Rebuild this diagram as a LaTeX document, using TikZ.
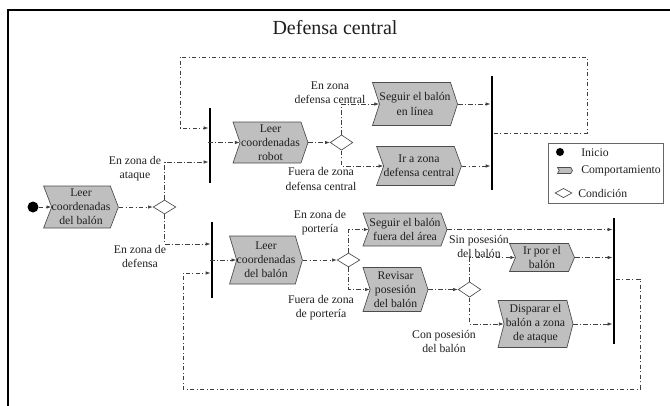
\documentclass[tikz,border=0pt]{standalone}
\usepackage{fontspec}
\setmainfont{Liberation Serif}
\usetikzlibrary{shapes.symbols,shapes.geometric,arrows.meta,calc}
\begin{document}
\begin{tikzpicture}[x=0.75pt,y=-0.75pt,
  every node/.style={font=\fontsize{8.8}{10.6}\selectfont, text=black!88},
  bhv/.style={signal, signal from=west, signal to=east, draw=black!70, fill=black!25,
    line width=0.5pt, align=center, inner sep=0pt, signal pointer angle=#1},
  bhv/.default=140,
  cond/.style={diamond, draw=black!70, fill=white, line width=0.5pt, inner sep=0pt,
    minimum width=17pt, minimum height=10.5pt},
  bar/.style={rectangle, fill=black, inner sep=0pt, minimum width=1.9pt},
  lbl/.style={align=center, inner sep=0pt},
  flow/.style={draw=black!75, line width=0.5pt,
    dash pattern=on 3.5pt off 1.6pt on 0.8pt off 1.6pt,
    -{Latex[length=3.6pt,width=2.6pt]}},
  loop/.style={draw=black!75, line width=0.5pt,
    dash pattern=on 3.5pt off 1.6pt on 0.8pt off 1.6pt}
]
\useasboundingbox (0,0) rectangle (670,405);
\clip (0,0) rectangle (670,405);
% frame
\draw[line width=1.1pt] (8,420) -- (8,10) -- (690,10);
\node[font=\fontsize{15}{18}\selectfont, inner sep=0pt] (title) at (335,28) {Defensa central};

% start and first part
\node[circle, fill=black, inner sep=0pt, minimum size=8.25pt] (st) at (33,207) {};
\node[bhv=138, minimum width=54.75pt, minimum height=31.5pt] (A) at (81,207) {Leer\\coordenadas\\del balón};
\node[cond] (D1) at (164.5,207) {};

% bars
\node[bar, minimum height=56.25pt] (bar1) at (210,145.5) {};
\node[bar, minimum height=57pt] (bar2) at (212,260) {};
\node[bar, minimum height=85.5pt] (bar3) at (492,133) {};
\node[bar, minimum height=94.5pt] (bar4) at (614,281) {};

% top section
\node[bhv=142, minimum width=56.25pt, minimum height=30.75pt] (B) at (270.5,142.5) {Leer\\coordenadas\\robot};
\node[cond, minimum height=11.5pt] (D2) at (341.5,142.5) {};
\node[bhv=144, minimum width=63pt, minimum height=32.25pt] (C) at (415,104) {Seguir el balón\\en línea};
\node[bhv=140, minimum width=62.25pt, minimum height=29.25pt] (D) at (419,166) {Ir a zona\\defensa central};

% bottom section
\node[bhv=147, minimum width=53.25pt, minimum height=36pt] (E) at (266,260) {Leer\\coordenadas\\del balón};
\node[cond] (D3) at (348.5,260) {};
\node[bhv=140, minimum width=63pt, minimum height=24.75pt] (F) at (405,229.5) {Seguir el balón\\fuera del área};
\node[bhv=144, minimum width=48.75pt, minimum height=33pt] (G) at (395.5,289.5) {Revisar\\posesión\\del balón};
\node[cond, minimum height=11.5pt] (D4) at (469.5,289.5) {};
\node[bhv=134, minimum width=48.75pt, minimum height=21pt] (H) at (542,257.5) {Ir por el\\balón};
\node[bhv=151, minimum width=56.25pt, minimum height=35.25pt] (I) at (535.5,324) {Disparar el\\balón a zona\\de ataque};

% labels
\node[lbl] (l1) at (135,168.5) {En zona de\\ataque};
\node[lbl] (l2) at (140,256.5) {En zona de\\defensa};
\node[lbl] (l3) at (330,92.5) {En zona\\defensa central};
\node[lbl] (l4) at (321,179) {Fuera de zona\\defensa central};
\node[lbl] (l5) at (320,222.5) {En zona de\\portería};
\node[lbl] (l6) at (321,307.5) {Fuera de zona\\de portería};
\node[lbl] (l7) at (479,246.5) {Sin posesión\\del balón};
\node[lbl] (l8) at (444,341.5) {Con posesión\\del balón};

% coordinates on bars
\coordinate (b1a) at (bar1.west |- 0,162);
\coordinate (b1b) at (bar1.west |- 0,128);
\coordinate (b1c) at (bar1.west |- B.west);
\coordinate (b2a) at (bar2.west |- 0,244);
\coordinate (b2b) at (bar2.west |- 0,273);
\coordinate (b2c) at (bar2.west |- E.west);
\coordinate (b3o) at (bar3.east |- 0,133);
\coordinate (b4o) at (bar4.east |- 0,279);
\coordinate (t1) at (587,133);
\coordinate (t2) at (587,57);
\coordinate (t3) at (180,57);
\coordinate (t4) at (180,128);
\coordinate (u1) at (640,279);
\coordinate (u2) at (640,389);
\coordinate (u3) at (183,389);
\coordinate (u4) at (183,273);

% connectors
\draw[flow] (st) -- (A.west);
\draw[flow] (A.east) -- (D1.west);
\draw[flow] (D1.north) |- (b1a);
\draw[flow] (D1.south) |- (b2a);
\draw[flow] (b1c) -- (B.west);
\draw[flow] (B.east) -- (D2.west);
\draw[flow] (D2.north) |- (C.west);
\draw[flow] (D2.south) |- (D.west);
\draw[flow] (C.east) -- (bar3.west |- C.east);
\draw[flow] (D.east) -- (bar3.west |- D.east);
\draw[flow] (b3o) -- (t1) -- (t2) -- (t3) -- (t4) -- (b1b);

\draw[flow] (b2c) -- (E.west);
\draw[flow] (E.east) -- (D3.west);
\draw[flow] (D3.north) |- (F.west);
\draw[flow] (D3.south) |- (G.west);
\draw[flow] (G.east) -- (D4.west);
\draw[flow] (D4.north) |- (H.west);
\draw[flow] (D4.south) |- (I.west);
\draw[flow] (F.east) -- (bar4.west |- F.east);
\draw[flow] (H.east) -- (bar4.west |- H.east);
\draw[flow] (I.east) -- (bar4.west |- I.east);
\draw[flow] (b4o) -- (u1) -- (u2) -- (u3) -- (u4) -- (b2b);

% legend
\node[draw=black!60, line width=0.6pt, rectangle, inner sep=0pt, minimum width=86.25pt, minimum height=45pt] (leg) at (605.5,173) {};
\node[circle, fill=black, inner sep=0pt, minimum size=6pt] (lgdot) at (560,152) {};
\node[anchor=west, inner sep=0pt] (lgt1) at (581,153) {Inicio};
\node[bhv=120, minimum width=11.25pt, minimum height=4.5pt] (lgbox) at (565,170.5) {};
\node[anchor=west, inner sep=0pt] (lgt2) at (581,171) {Comportamiento};
\node[cond, minimum width=12.75pt, minimum height=7pt] (lgcond) at (563.5,193) {};
\node[anchor=west, inner sep=0pt] (lgt3) at (578,193) {Condición};
\end{tikzpicture}
\end{document}
